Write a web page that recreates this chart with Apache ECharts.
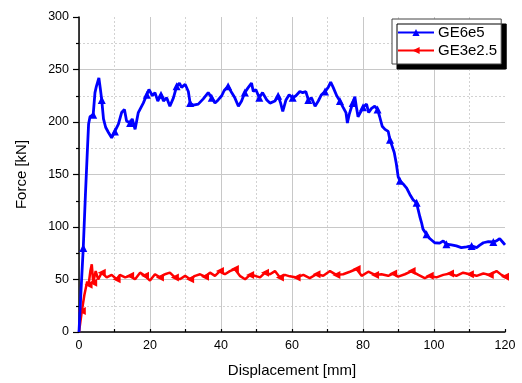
<!DOCTYPE html>
<html><head><meta charset="utf-8">
<script src="https://cdn.jsdelivr.net/npm/echarts@6/dist/echarts.min.js"></script>
<style>html,body{margin:0;padding:0;background:#fff}#c{width:522px;height:383px}</style>
</head><body><div id="c"></div>
<script>
const xTicks = [0, 20, 40, 60, 80, 100, 120];
const yTicks = [0, 50, 100, 150, 200, 250, 300];
const seriesNames = ['GE6e5', 'GE3e2.5'];
const blueX = [0,0.5,1.2,1.8,2.4,2.7,3.1,4.0,4.5,4.9,5.6,6.0,6.4,6.9,7.5,8.3,9.2,10.1,11.1,12.0,
12.8,13.4,14.4,15.0,15.8,16.7,18.1,19.1,19.7,20.7,21.4,22.2,23.1,23.8,24.7,25.6,26.6,27.5,28.3,28.9,
29.9,30.8,31.3,32.2,33.6,35.0,36.4,37.4,38.3,39.2,40.2,40.9,42.0,43.0,43.9,44.9,45.8,46.7,47.7,48.6,
49.1,49.8,50.8,51.7,52.9,53.8,55.2,56.1,56.8,57.4,58.3,59.2,60.2,61.1,62.2,63.0,63.9,64.6,65.5,66.5,
67.4,68.3,69.3,70.2,70.9,71.6,72.6,73.5,74.4,75.2,75.6,76.1,77.1,77.7,78.2,78.6,79.4,80.0,81.0,81.6,
82.4,83.3,84.1,84.7,85.4,86.2,87.1,87.6,88.2,88.8,89.4,89.9,90.4,91.3,92.3,93.2,94.1,95.1,95.5,96.0,
96.5,96.9,97.9,98.8,100.2,101.6,102.6,103.5,104.9,106.3,107.7,109.2,110.6,112.0,112.9,113.9,115.3,116.7,117.6,118.5,
119.5,120.0];
const blueY = [0,35,80,130,176,198,205,207,228,234,242,232,221,203,195,190,185,191,198,209,
212,201,199,203,193,209,218,226,231,225,228,220,226,220,223,215,223,234,237,233,
236,229,218,216,217,222,228,223,218,221,225,230,234,228,223,215,220,228,233,237,
229,231,223,228,221,218,220,225,218,210,221,226,223,225,229,228,229,221,223,215,
220,226,229,233,238,233,225,220,214,209,199,207,218,224,213,205,210,214,217,209,
213,215,212,205,196,193,191,183,177,171,160,148,144,141,137,131,126,123,117,110,
104,98,93,89,85,84.6,86.8,83.6,83,82,80.4,81,82,80.4,82.7,85,86,85.8,86.8,89,
85,83];
const redX = [0,0.8,1.5,2.3,2.7,3.2,3.6,4.0,4.7,5.4,6.4,7.8,9.2,10.6,11.5,13,14.4,15.8,17.2,18.6,
20,21.4,22.8,24.2,25.6,27,28.4,29.9,31.3,32.7,34.1,35.5,36.9,38.3,39.7,41.1,42.5,43.9,45.3,46.8,
48.2,49.6,51,52.4,53.8,55.2,56.6,58,59.4,61.3,63.2,65,66.9,68.8,70.7,72.5,74.4,76.3,78.2,79.6,
81.5,83.4,85.2,87.1,88.5,89.9,91.8,93.7,95.6,97.4,98.8,100.7,102.6,104.5,106.3,108.2,110.1,112,113.9,115.7,
117.6,119,120];
const redY = [0,20,35,48,45,58,64.5,47,58,50,56.5,52,54.4,50.3,54.4,52,53.5,50.3,56.5,53.5,
49,55,52,55,56.5,52,50.3,53.5,50.3,53.5,55,52.7,56.5,53.5,58,55,58,60,53.5,50.3,
54.4,53.5,52,56.5,55,58,52,54.4,53,52,54.4,51.3,55,53.5,58,54.4,55,57.4,60,53.5,
57.4,54.4,55,53.5,55.7,52.7,55,58,54.4,51.3,53.5,52,54.4,55.7,53.5,56.5,55,53.5,55.7,54.4,
58,54.4,52.7];

const pairs = (xs, ys) => xs.map((x, i) => [x, ys[i]]);
const chart = echarts.init(document.getElementById('c'), null, {renderer: 'canvas'});
const font = 'Liberation Sans, Arial, sans-serif';
chart.setOption({
  animation: false,
  grid: {left: 79, right: 17, top: 17, bottom: 50},
  xAxis: {
    type: 'value', min: xTicks[0], max: xTicks[xTicks.length - 1], interval: 20,
    name: 'Displacement [mm]', nameLocation: 'middle', nameGap: 31,
    nameTextStyle: {fontFamily: font, fontSize: 15, color: '#000'},
    axisLine: {lineStyle: {color: '#000', width: 1.5}},
    axisTick: {inside: true, length: 3, lineStyle: {color: '#000', width: 1.2}},
    minorTick: {show: true, splitNumber: 2, length: 3, lineStyle: {color: '#000', width: 1.2}},
    axisLabel: {fontFamily: font, fontSize: 12.5, color: '#000', margin: 7},
    splitLine: {show: true, showMaxLine: false, lineStyle: {color: '#c8c8c8', width: 1}},
    minorSplitLine: {show: true, lineStyle: {color: '#d2d2d2', width: 1, type: [2, 2]}}
  },
  yAxis: {
    type: 'value', min: yTicks[0], max: yTicks[yTicks.length - 1], interval: 50,
    name: 'Force [kN]', nameLocation: 'middle', nameGap: 50,
    nameTextStyle: {fontFamily: font, fontSize: 15, color: '#000'},
    axisLine: {show: true, lineStyle: {color: '#000', width: 1.5}},
    axisTick: {show: true, inside: false, length: 6, lineStyle: {color: '#000', width: 1.2}},
    minorTick: {show: true, splitNumber: 2, length: 3, lineStyle: {color: '#000', width: 1.2}},
    axisLabel: {fontFamily: font, fontSize: 12.5, color: '#000', margin: 10},
    splitLine: {show: true, showMaxLine: false, lineStyle: {color: '#c8c8c8', width: 1}},
    minorSplitLine: {show: true, lineStyle: {color: '#d2d2d2', width: 1, type: [2, 2]}}
  },
  legend: {
    orient: 'vertical', left: 392, top: 19,
    padding: [6, 4, 6, 5], itemGap: 3, itemWidth: 36, itemHeight: 9,
    backgroundColor: '#fff', borderColor: '#444', borderWidth: 1,
    shadowColor: '#000', shadowBlur: 0, shadowOffsetX: 5, shadowOffsetY: 5,
    textStyle: {fontFamily: font, fontSize: 15, color: '#000', padding: [0, 0, 0, -1]},
    data: seriesNames
  },
  series: [
    {
      name: seriesNames[0], type: 'line', data: pairs(blueX, blueY),
      color: '#0000ff', showSymbol: true, symbol: 'triangle',
      symbolSize: (v, p) => (p.dataIndex % 5 === 2 ? 8 : 0),
      lineStyle: {width: 2.8, color: '#0000ff'}, itemStyle: {color: '#0000ff'}, z: 3
    },
    {
      name: seriesNames[1], type: 'line', data: pairs(redX, redY),
      color: '#ff0000', showSymbol: true, symbol: 'triangle', symbolRotate: 90,
      symbolSize: (v, p) => (p.dataIndex % 3 === 1 ? 8 : 0),
      lineStyle: {width: 2.5, color: '#ff0000'}, itemStyle: {color: '#ff0000'}, z: 2
    }
  ]
});
</script></body></html>
